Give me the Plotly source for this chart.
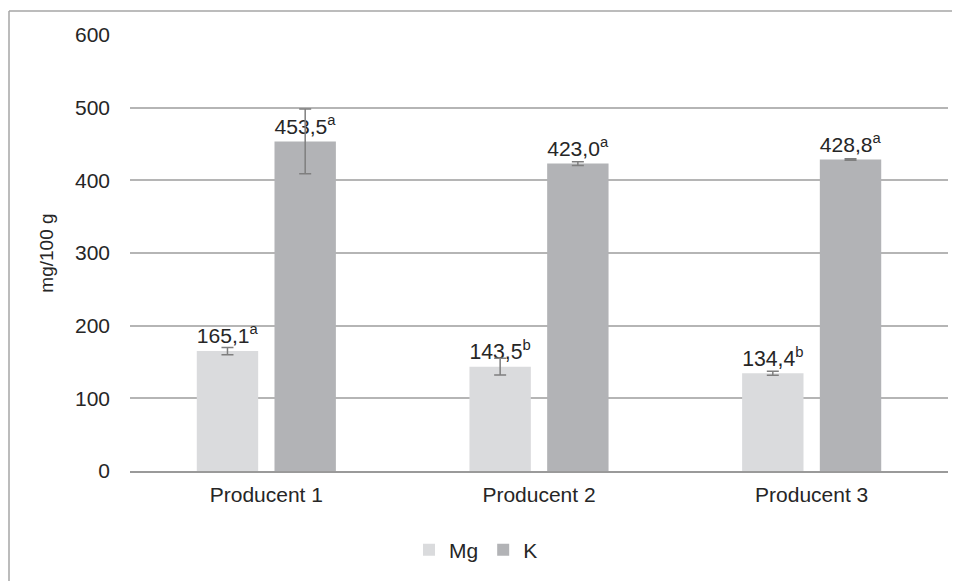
import plotly.graph_objects as go

categories = ["Producent 1", "Producent 2", "Producent 3"]
mg_values = [165.1, 143.5, 134.4]
mg_errors = [5.0, 11.5, 2.7]
mg_letters = ["a", "b", "b"]
k_values = [453.5, 423.0, 428.8]
k_errors = [44.5, 2.5, 1.0]
k_letters = ["a", "a", "a"]
y_ticks = [0, 100, 200, 300, 400, 500, 600]

FONT = "Liberation Sans, Arial, sans-serif"
TXT = "#262626"
FS = 21
FS_LBL = 22

# page body adds an 8px margin; work in reference pixels minus OFF
OFF = 8
W, H = 960 - OFF, 581 - OFF
L, R = 130 - OFF, 20 - OFF
T, B = 35 - OFF, 581 - 472
pw, ph = W - L - R, H - T - B
plot_bottom = T + ph  # in figure px


def px_x(x):
    return (x - OFF - L) / pw


def px_y(y):
    return (plot_bottom - (y - OFF)) / ph


fig = go.Figure()
fig.add_trace(go.Bar(
    name="Mg", x=categories, y=mg_values, customdata=mg_letters,
    marker=dict(color="#dadbdd", line=dict(width=0)),
    error_y=dict(type="data", array=mg_errors, color="#7f7f7f", thickness=1.5, width=6),
    texttemplate="%{y:.1f}<sup>%{customdata}</sup>", textposition="outside",
    textfont=dict(family=FONT, size=FS_LBL, color=TXT), cliponaxis=False,
))
fig.add_trace(go.Bar(
    name="K", x=categories, y=k_values, customdata=k_letters,
    marker=dict(color="#b2b3b6", line=dict(width=0)),
    error_y=dict(type="data", array=k_errors, color="#7f7f7f", thickness=1.5, width=6),
    texttemplate="%{y:.1f}<sup>%{customdata}</sup>", textposition="outside",
    textfont=dict(family=FONT, size=FS_LBL, color=TXT), cliponaxis=False,
))

fig.update_layout(
    width=W, height=H,
    margin=dict(l=L, r=R, t=T, b=B, pad=0),
    paper_bgcolor="white", plot_bgcolor="white",
    barmode="group", bargap=0.43, bargroupgap=0.21,
    separators=", ",
    font=dict(family=FONT, size=FS, color=TXT),
    showlegend=True,
    legend=dict(orientation="h", x=px_x(476), xanchor="center",
                y=px_y(550), yanchor="middle",
                font=dict(family=FONT, size=FS, color=TXT),
                itemwidth=30, traceorder="normal"),
    shapes=[
        dict(type="line", xref="paper", yref="paper",
             x0=px_x(9), x1=px_x(990), y0=px_y(11), y1=px_y(11),
             line=dict(color="#a6a6a6", width=1.5)),
        dict(type="line", xref="paper", yref="paper",
             x0=px_x(9), x1=px_x(9), y0=px_y(11), y1=px_y(620),
             line=dict(color="#a6a6a6", width=1.5)),
    ],
)
fig.update_xaxes(
    showgrid=False, showline=True, linecolor="#9a9a9a", linewidth=1.5,
    ticks="", tickfont=dict(family=FONT, size=FS, color=TXT),
    ticklabelstandoff=4, zeroline=False,
)
fig.update_yaxes(
    range=[0, 600], tickvals=y_ticks, ticktext=[str(v) for v in y_ticks],
    showgrid=True, gridcolor="#b5b5b5", gridwidth=1.5,
    showline=False, zeroline=False, ticks="",
    tickfont=dict(family=FONT, size=FS, color=TXT), ticklabelstandoff=19,
    title=dict(text="mg/100 g", font=dict(family=FONT, size=19, color=TXT), standoff=16),
)

fig.write_html("out.html")
